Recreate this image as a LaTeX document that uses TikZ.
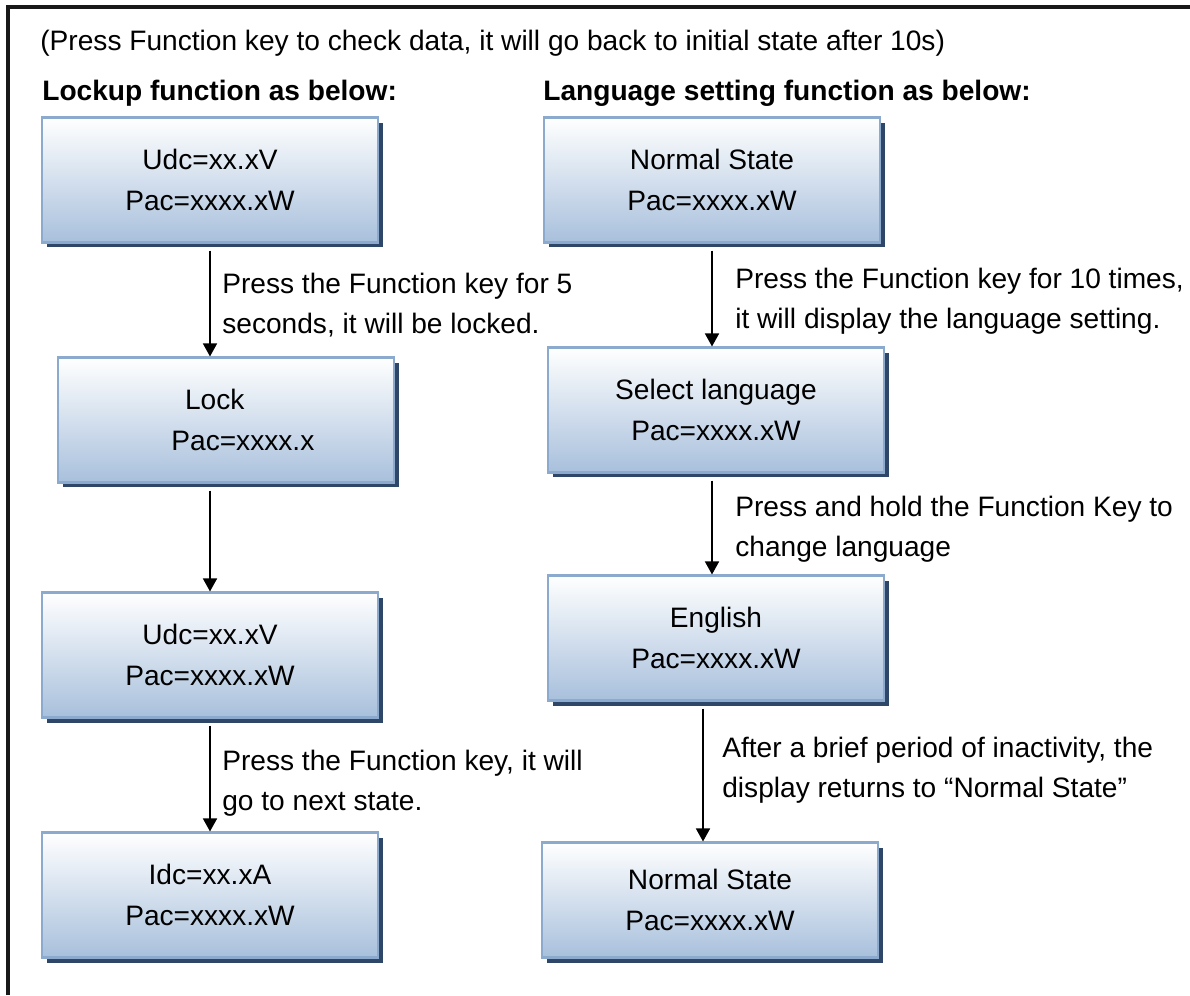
\documentclass[tikz,border=0pt]{standalone}
\usepackage{fontspec}
\setmainfont{Liberation Sans}
\usetikzlibrary{arrows.meta,shadows}

\definecolor{boxbot}{RGB}{168,192,220}
\definecolor{boxline}{RGB}{140,170,206}
\definecolor{boxshade}{RGB}{46,70,104}

\tikzset{
    panel/.style={rectangle, draw=boxline, line width=1.2pt, top color=white, bottom color=boxbot,
        minimum width=6.72cm, minimum height=2.5cm, inner sep=0pt, align=center,
        font=\fontsize{16}{23}\selectfont,
        drop shadow={shadow xshift=0.1cm, shadow yshift=-0.1cm, fill=boxshade, opacity=1}},
    flow/.style={-{Triangle[length=2.6mm, width=2.8mm]}, line width=0.9pt, shorten <=0.14cm},
    note/.style={anchor=west, align=left, inner sep=0pt, font=\fontsize{16}{23}\selectfont},
}

\begin{document}
\begin{tikzpicture}[x=0.02cm, y=-0.02cm]
            \useasboundingbox (0,0) rectangle (1190,995);
            \draw[line width=2pt, black!90] (8,995) -- (8,7) -- (1190,7);

            \node[note] (hint) at (40,43) {(Press Function key to check data, it will go back to initial state after 10s)};
            \node[note, font=\fontsize{16}{23}\selectfont\bfseries] (lkhead) at (42,93) {Lockup function as below:};
            \node[note, font=\fontsize{16}{23}\selectfont\bfseries] (lshead) at (543,93) {Language setting function as below:};

            % lockup column
            \node[panel] (lk1) at (210,180) {Udc=xx.xV\\Pac=xxxx.xW};
            \node[panel] (lk2) at (226,420) {Lock\hspace*{0.8em}\\\hspace*{1.2em}Pac=xxxx.x};
            \node[panel] (lk3) at (210,655) {Udc=xx.xV\\Pac=xxxx.xW};
            \node[panel] (lk4) at (210,895) {Idc=xx.xA\\Pac=xxxx.xW};
            \draw[flow] (lk1.south) -- (lk1.south |- lk2.north);
            \draw[flow] (lk1.south |- lk2.south) -- (lk1.south |- lk3.north);
            \draw[flow] (lk3.south) -- (lk4.north);
            \node[note] (lknote1) at (222,305) {Press the Function key for 5\\seconds, it will be locked.};
            \node[note] (lknote3) at (222,783) {Press the Function key, it will\\go to next state.};

            % language column
            \node[panel] (ls1) at (712,180) {Normal State\\Pac=xxxx.xW};
            \node[panel] (ls2) at (716,410) {Select language\\Pac=xxxx.xW};
            \node[panel] (ls3) at (716,638) {English\\Pac=xxxx.xW};
            \node[panel, minimum height=2.3cm] (ls4) at (710,900) {Normal State\\Pac=xxxx.xW};
            \draw[flow] (ls1.south) -- (ls1.south |- ls2.north);
            \draw[flow] (ls1.south |- ls2.south) -- (ls1.south |- ls3.north);
            \draw[flow] ([xshift=-0.26cm]ls3.south) -- ([xshift=-0.26cm]ls3.south |- ls4.north);
            \node[note] (lsnote1) at (735,301) {Press the Function key for 10 times,\\it will display the language setting.};
            \node[note] (lsnote2) at (735,529) {Press and hold the Function Key to\\change language};
            \node[note] (lsnote3) at (722,770) {After a brief period of inactivity, the\\display returns to “Normal State”};
        \end{tikzpicture}
\end{document}
